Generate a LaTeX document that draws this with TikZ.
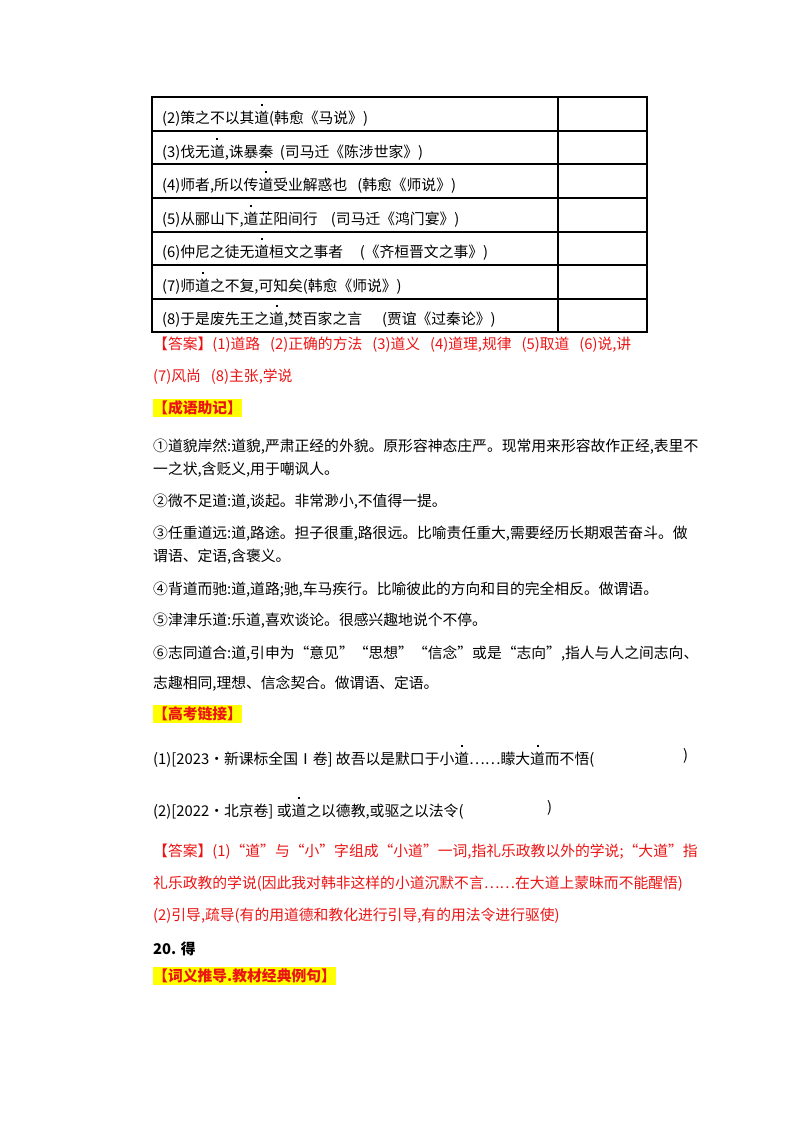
\documentclass[tikz,border=0pt]{standalone}
\usepackage{fontspec}
\setmainfont{Noto Sans CJK SC}
\definecolor{ansred}{RGB}{235,20,20}
\definecolor{hl}{RGB}{255,255,0}
\newcommand\zd[1]{\leavevmode\rlap{\hbox to 1em{\hss\raisebox{1.2em}{\rule{2pt}{2pt}}\hss}}#1}
\begin{document}
\begin{tikzpicture}[x=1pt,y=-1pt,
  txt/.style={anchor=west,inner sep=0pt,font=\fontsize{14.8}{16}\selectfont},
  ans/.style={txt,text=ansred},
  hdr/.style={txt,text=ansred,fill=hl,inner ysep=2pt,font=\fontsize{14.8}{16}\selectfont\bfseries},
  tbl/.style={line width=2pt}]
\useasboundingbox (0,0) rectangle (800,1132);
% table
\foreach \y in {97,131,164,198,232,265,299,332} \draw[tbl] (152,\y) -- (647,\y);
\draw[tbl] (152,96) -- (152,333);
\draw[tbl] (558,96) -- (558,333);
\draw[tbl] (647,96) -- (647,333);
\node[txt] (r2) at (162,115) {(2)策之不以其\zd{道}(韩愈《马说》)};
\node[txt] (r3) at (162,149) {(3)伐无\zd{道},诛暴秦\ \ (司马迁《陈涉世家》)};
\node[txt] (r4) at (162,182) {(4)师者,所以传\zd{道}受业解惑也\ \ \ (韩愈《师说》)};
\node[txt] (r5) at (162,216) {(5)从郦山下,\zd{道}芷阳间行\ \ \ \ (司马迁《鸿门宴》)};
\node[txt] (r6) at (162,249) {(6)仲尼之徒无\zd{道}桓文之事者\ \ \ \ \ (《齐桓晋文之事》)};
\node[txt] (r7) at (162,283) {(7)师\zd{道}之不复,可知矣(韩愈《师说》)};
\node[txt] (r8) at (162,316) {(8)于是废先王之\zd{道},焚百家之言\ \ \ \ \ \ (贾谊《过秦论》)};
% answers
\node[ans] (a1) at (153,345) {【答案】(1)道路\ \ \ (2)正确的方法\ \ \ (3)道义\ \ \ (4)道理,规律\ \ \ (5)取道\ \ \ (6)说,讲};
\node[ans] (a2) at (153,377) {(7)风尚\ \ \ (8)主张,学说};
\node[hdr] (h1) at (153,408) {【成语助记】};
\node[txt] (c1) at (153,447) {①道貌岸然:道貌,严肃正经的外貌。原形容神态庄严。现常用来形容故作正经,表里不};
\node[txt] (c1b) at (153,470) {一之状,含贬义,用于嘲讽人。};
\node[txt] (c2) at (153,502) {②微不足道:道,谈起。非常渺小,不值得一提。};
\node[txt] (c3) at (153,534) {③任重道远:道,路途。担子很重,路很远。比喻责任重大,需要经历长期艰苦奋斗。做};
\node[txt] (c3b) at (153,557) {谓语、定语,含褒义。};
\node[txt] (c4) at (153,590) {④背道而驰:道,道路;驰,车马疾行。比喻彼此的方向和目的完全相反。做谓语。};
\node[txt] (c5) at (153,621) {⑤津津乐道:乐道,喜欢谈论。很感兴趣地说个不停。};
\node[txt] (c6) at (153,654) {⑥志同道合:道,引申为“意见”“思想”“信念”或是“志向”,指人与人之间志向、};
\node[txt] (c6b) at (153,684) {志趣相同,理想、信念契合。做谓语、定语。};
\node[hdr] (h2) at (153,714) {【高考链接】};
\node[txt] (g1) at (153,756) {(1)[2023·新课标全国Ⅰ卷]\ 故吾以是默口于小\zd{道}……矇大\zd{道}而不悟(};
\node[txt] (g1r) at (683,756) {)};
\node[txt] (g2) at (153,808) {(2)[2022·北京卷]\ 或\zd{道}之以德教,或驱之以法令(};
\node[txt] (g2r) at (547,808) {)};
\node[ans] (b1) at (153,852) {【答案】(1)“道”与“小”字组成“小道”一词,指礼乐政教以外的学说;“大道”指};
\node[ans] (b2) at (153,884) {礼乐政教的学说(因此我对韩非这样的小道沉默不言……在大道上蒙昧而不能醒悟)};
\node[ans] (b3) at (153,916) {(2)引导,疏导(有的用道德和教化进行引导,有的用法令进行驱使)};
\node[txt,font=\fontsize{14.8}{16}\selectfont\bfseries] (s20) at (153,949) {20. 得};
\node[hdr] (h3) at (153,976) {【词义推导.教材经典例句】};
\end{tikzpicture}
\end{document}
